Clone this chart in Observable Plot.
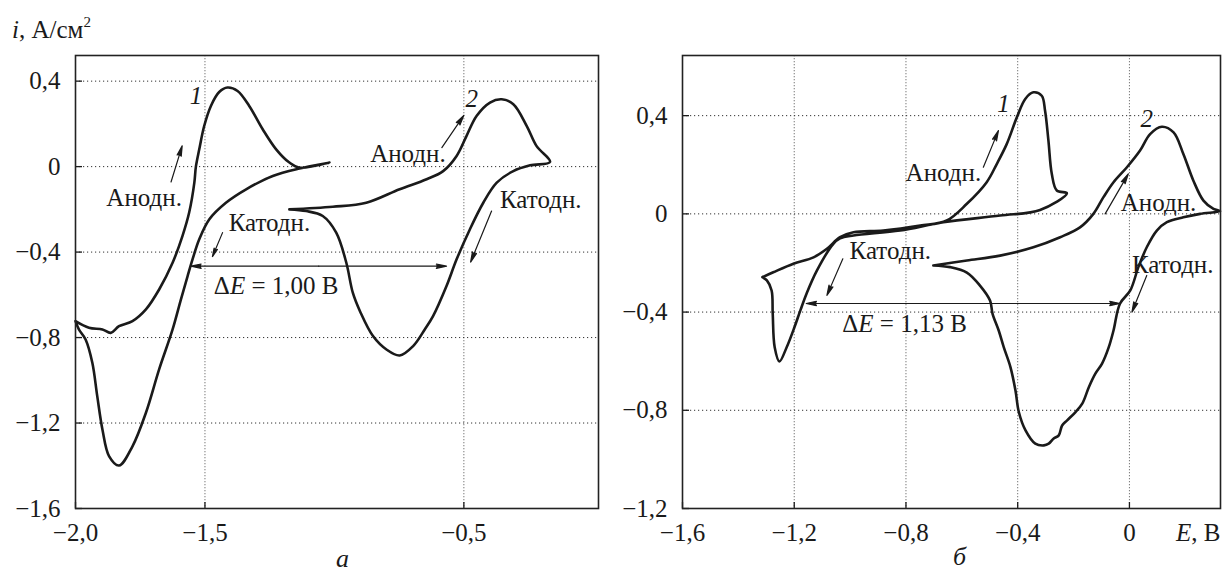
<!DOCTYPE html>
<html><head><meta charset="utf-8">
<script src="https://cdn.jsdelivr.net/npm/d3@7"></script>
<script src="https://cdn.jsdelivr.net/npm/@observablehq/plot@0.6"></script>
<style>
body{margin:0;background:#fff;}
#fig{position:relative;width:1222px;height:576px;font-family:"Liberation Serif","Tinos","Times New Roman","DejaVu Serif","Noto Serif",serif;color:#1a1a1a;}
#fig svg{position:absolute;top:0;overflow:visible;}
.lbl{position:absolute;font-size:25px;white-space:nowrap;line-height:1;}
</style></head><body><div id="fig"></div>
<script>
// ---------- Panel а ----------
const a1E = [-2.0,-1.948,-1.896,-1.864,-1.832,-1.780,-1.728,-1.677,-1.625,-1.587,-1.561,-1.541,-1.535,-1.522,-1.503,-1.477,-1.445,-1.413,-1.374,-1.329,-1.277,-1.225,-1.174,-1.135,-1.019,
  -1.135,-1.238,-1.341,-1.419,-1.483,-1.522,-1.548,-1.567,-1.593,-1.625,-1.677,-1.728,-1.780,-1.832,-1.870,-1.896,-1.916,-1.935,-1.961,-1.987,-2.0];
const a1I = [-0.723,-0.754,-0.762,-0.778,-0.747,-0.723,-0.668,-0.575,-0.450,-0.325,-0.215,-0.075,0.0,0.081,0.190,0.284,0.349,0.370,0.354,0.284,0.175,0.081,0.019,-0.005,0.019,
  -0.009,-0.044,-0.106,-0.169,-0.246,-0.340,-0.434,-0.512,-0.622,-0.762,-0.949,-1.152,-1.309,-1.399,-1.356,-1.230,-1.074,-0.918,-0.809,-0.762,-0.723];
const a2E = [-1.174,-1.006,-0.877,-0.748,-0.644,-0.580,-0.528,-0.490,-0.451,-0.399,-0.354,-0.309,-0.257,-0.219,-0.167,
  -0.244,-0.309,-0.373,-0.425,-0.477,-0.528,-0.567,-0.619,-0.651,-0.696,-0.748,-0.799,-0.851,-0.900,-0.929,-0.954,-0.993,-1.045,-1.109,-1.174];
const a2I = [-0.200,-0.188,-0.169,-0.106,-0.059,-0.021,0.050,0.143,0.237,0.300,0.315,0.292,0.190,0.096,0.022,
  0.006,-0.021,-0.075,-0.169,-0.294,-0.434,-0.559,-0.700,-0.762,-0.840,-0.884,-0.856,-0.793,-0.680,-0.590,-0.450,-0.309,-0.231,-0.208,-0.200];
const aTicksE = [-2.0,-1.5,-0.5];
const aGridE = [-1.5,-0.5];
const aTicksI = [0.4,0,-0.4,-0.8,-1.2,-1.6];
const aGridI = [0.4,0,-0.4,-0.8,-1.2];
const aNumText = ["1","2"], aNumE = [-1.535,-0.470], aNumI = [0.33,0.315];
const aLblText = ["Анодн.","Анодн.","Катодн.","Катодн.","ΔE = 1,00 В"];
const aLblE = [-1.735,-0.716,-1.251,-0.203,-1.225];
const aLblI = [-0.145,0.058,-0.262,-0.158,-0.559];
const aArrE1 = [-1.631,-1.432,-0.585,-0.393], aArrI1 = [-0.072,-0.309,0.089,-0.208];
const aArrE2 = [-1.588,-1.471,-0.500,-0.474], aArrI2 = [0.097,-0.421,0.240,-0.447];
const aDeltaE = [-1.554,-0.567], aDeltaI = -0.466;

// ---------- Panel б ----------
const b1E = [-1.314,-1.275,-1.203,-1.131,-1.083,-1.036,-0.988,-0.881,-0.749,-0.654,-0.582,-0.511,-0.475,-0.439,-0.403,-0.373,-0.344,-0.314,-0.302,-0.290,-0.278,-0.260,-0.224,
  -0.320,-0.463,-0.666,-0.821,-0.988,-1.036,-1.060,-1.119,-1.156,-1.178,-1.199,-1.227,-1.253,-1.270,-1.277,-1.281,-1.298,-1.314];
const b1I = [-0.258,-0.238,-0.203,-0.177,-0.142,-0.095,-0.075,-0.068,-0.048,-0.027,0.041,0.129,0.203,0.285,0.393,0.468,0.495,0.481,0.420,0.298,0.163,0.095,0.084,
  0.016,-0.007,-0.034,-0.068,-0.088,-0.100,-0.122,-0.231,-0.325,-0.393,-0.461,-0.543,-0.601,-0.543,-0.407,-0.312,-0.271,-0.258];
const b2E = [-0.702,-0.582,-0.463,-0.344,-0.248,-0.177,-0.129,-0.093,-0.057,-0.009,0.038,0.074,0.116,0.158,0.193,0.229,0.265,0.301,0.325,
  0.253,0.193,0.134,0.098,0.062,0.032,0.003,-0.034,-0.057,-0.074,-0.098,-0.122,-0.145,-0.169,-0.193,-0.223,-0.241,-0.253,-0.271,-0.289,-0.306,-0.337,-0.372,-0.396,-0.408,-0.426,-0.450,-0.468,-0.490,-0.499,-0.535,-0.582,-0.642,-0.702];
const b2I = [-0.210,-0.190,-0.170,-0.136,-0.095,-0.055,0.000,0.068,0.129,0.190,0.258,0.325,0.355,0.332,0.244,0.135,0.054,0.020,0.011,
  0.000,-0.014,-0.034,-0.068,-0.136,-0.217,-0.312,-0.366,-0.475,-0.543,-0.610,-0.651,-0.705,-0.773,-0.807,-0.841,-0.862,-0.902,-0.915,-0.936,-0.943,-0.936,-0.882,-0.807,-0.719,-0.624,-0.543,-0.475,-0.407,-0.353,-0.292,-0.239,-0.217,-0.210];
const bTicksE = [-1.6,-1.2,-0.8,-0.4,0];
const bGridE = [-1.2,-0.8,-0.4,0];
const bTicksI = [0.4,0,-0.4,-0.8,-1.2];
const bGridI = [0.4,0,-0.4,-0.8];
const bNumText = ["1","2"], bNumE = [-0.451,0.062], bNumI = [0.447,0.386];
const bLblText = ["Анодн.","Анодн.","Катодн.","Катодн.","ΔE = 1,13 В"];
const bLblE = [-0.666,0.104,-0.856,0.155,-0.805];
const bLblI = [0.165,0.043,-0.152,-0.210,-0.448];
const bArrE1 = [-0.523,-0.087,-1.026,0.062], bArrI1 = [0.190,0.000,-0.183,-0.251];
const bArrE2 = [-0.469,-0.004,-1.083,0.009], bArrI2 = [0.339,0.163,-0.332,-0.400];
const bDeltaE = [-1.157,-0.034], bDeltaI = -0.365;

// ---------- helpers ----------
const FONT = '"Liberation Serif","Tinos","Times New Roman","DejaVu Serif","Noto Serif",serif';
const fmt = d => d === 0 ? "0" : d3.format(".1f")(d).replace(".", ",");
const zip = (E, I) => E.map((e, k) => ({E: e, i: I[k]}));
const INK = "#1a1a1a";

function panel({E1, I1, E2, I2, xDomain, yDomain, ticksE, gridE, ticksI, gridI,
  numText, numE, numI, lblText, lblE, lblI, ae1, ai1, ae2, ai2, dE, dI,
  width, marginLeft, marginRight}) {
  const arrows = ae1.map((v, k) => ({x1: v, y1: ai1[k], x2: ae2[k], y2: ai2[k]}));
  const mid = (dE[0] + dE[1]) / 2;
  arrows.push({x1: mid, y1: dI, x2: dE[0], y2: dI}, {x1: mid, y1: dI, x2: dE[1], y2: dI});
  const nums = numText.map((t, k) => ({t, E: numE[k], i: numI[k]}));
  const lbls = lblText.map((t, k) => ({t, E: lblE[k], i: lblI[k]}));
  return Plot.plot({
    width, height: 576, marginLeft, marginRight, marginTop: 55, marginBottom: 68,
    style: {fontFamily: FONT, fontSize: "25px", color: INK, background: "transparent", overflow: "visible"},
    x: {domain: xDomain}, y: {domain: yDomain},
    marks: [
      Plot.ruleX(gridE, {stroke: "#777", strokeDasharray: "1.3,1.7", strokeWidth: 1}),
      Plot.ruleY(gridI, {stroke: "#333", strokeDasharray: "1.2,2.8", strokeWidth: 1}),
      Plot.axisX({ticks: ticksE, tickFormat: fmt, tickSize: -6, tickPadding: 21, label: null, stroke: INK, fill: INK, strokeWidth: 1.3, fontFamily: FONT, fontSize: 25}),
      Plot.axisY({ticks: ticksI, tickFormat: fmt, tickSize: -7, tickPadding: 22, label: null, stroke: INK, fill: INK, strokeWidth: 1.3, fontFamily: FONT, fontSize: 25}),
      Plot.line(zip(E1, I1), {x: "E", y: "i", stroke: INK, strokeWidth: 2.6, curve: "catmull-rom"}),
      Plot.line(zip(E2, I2), {x: "E", y: "i", stroke: INK, strokeWidth: 2.6, curve: "catmull-rom"}),
      Plot.arrow(arrows, {x1: "x1", y1: "y1", x2: "x2", y2: "y2", stroke: INK, fill: INK, strokeWidth: 1.2, headLength: 13, headAngle: 24}),
      Plot.text(nums, {x: "E", y: "i", text: "t", fontStyle: "italic", fontSize: 25, fontFamily: FONT, fill: INK}),
      Plot.text(lbls, {x: "E", y: "i", text: "t", fontSize: 25, fontFamily: FONT, fill: INK}),
      Plot.frame({stroke: "#222", strokeWidth: 1.6})
    ]
  });
}

const fig = document.getElementById("fig");
const svgA = panel({E1: a1E, I1: a1I, E2: a2E, I2: a2I, xDomain: [-2.0, 0.02], yDomain: [-1.6, 0.52],
  ticksE: aTicksE, gridE: aGridE, ticksI: aTicksI, gridI: aGridI,
  numText: aNumText, numE: aNumE, numI: aNumI, lblText: aLblText, lblE: aLblE, lblI: aLblI,
  ae1: aArrE1, ai1: aArrI1, ae2: aArrE2, ai2: aArrI2, dE: aDeltaE, dI: aDeltaI,
  width: 610, marginLeft: 75, marginRight: 12});
svgA.style.left = "0px";
const svgB = panel({E1: b1E, I1: b1I, E2: b2E, I2: b2I, xDomain: [-1.6, 0.326], yDomain: [-1.2, 0.645],
  ticksE: bTicksE, gridE: bGridE, ticksI: bTicksI, gridI: bGridI,
  numText: bNumText, numE: bNumE, numI: bNumI, lblText: bLblText, lblE: bLblE, lblI: bLblI,
  ae1: bArrE1, ai1: bArrI1, ae2: bArrE2, ai2: bArrI2, dE: bDeltaE, dI: bDeltaI,
  width: 612, marginLeft: 72, marginRight: 2});
svgB.style.left = "610px";
fig.append(svgA, svgB);

// italic E in the ΔE labels
for (const t of fig.querySelectorAll("text")) {
  const s = t.textContent;
  if (s.startsWith("ΔE")) t.innerHTML = 'Δ<tspan font-style="italic">E</tspan>' + s.slice(2);
}

function html(str, left, top, extra = "") {
  const d = document.createElement("div");
  d.className = "lbl"; d.innerHTML = str;
  d.style.left = left + "px"; d.style.top = top + "px";
  if (extra) d.style.cssText += extra;
  fig.append(d);
}
html('<i>i</i>, А/см<span style="font-size:15px;position:relative;top:-11px">2</span>', 12, 17);
html('<i>E</i>, В', 1176, 520);
html('<i>а</i>', 336, 546, "font-size:26px;");
html('<i>б</i>', 953, 544, "font-size:26px;");
</script>
</body></html>
